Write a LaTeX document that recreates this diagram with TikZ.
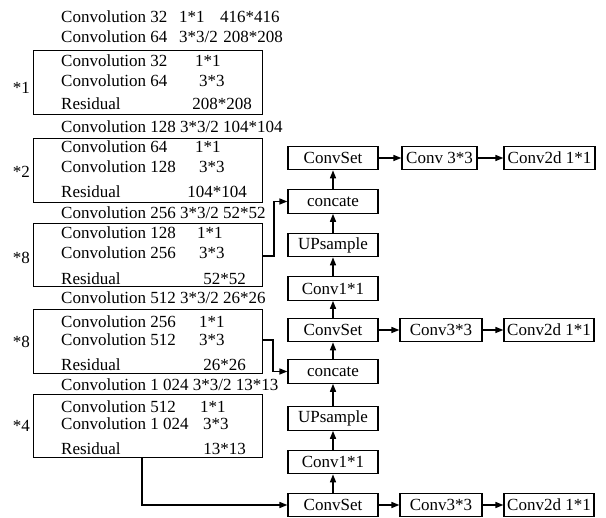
\documentclass[tikz,border=0pt]{standalone}
\usepackage{fontspec}
\setmainfont{Liberation Serif}
\usetikzlibrary{arrows.meta}
\begin{document}
\begin{tikzpicture}[x=1pt,y=-1pt,
  every node/.style={font=\fontsize{17}{20}\selectfont, inner sep=0pt},
  lbox/.style={draw, line width=1.1pt, anchor=north west, minimum width=229pt},
  rbox/.style={draw, line width=1.2pt, minimum height=23.5pt},
  txt/.style={anchor=west},
  txr/.style={anchor=east},
  arr/.style={line width=1.4pt, -{Triangle[length=8pt,width=6pt]}}]
\useasboundingbox (0,0) rectangle (606,518);
% left column
\node[txt] (t0a) at (61,17) {Convolution 32};
\node[txt] (t0b) at (179,17) {1*1};
\node[txt] (t0c) at (220,17) {416*416};
\node[txt] (t1a) at (61,37) {Convolution 64};
\node[txt] (t1b) at (179,37) {3*3/2};
\node[txr] (t1c) at (283,37) {208*208};
\node[lbox, minimum height=64pt] (b1) at (33,50) {};
\node[txt] (b1a) at (61,61) {Convolution 32};
\node[txt] (b1b) at (195,61) {1*1};
\node[txt] (b1c) at (61,81) {Convolution 64};
\node[txt] (b1d) at (199,81) {3*3};
\node[txt] (b1e) at (61,104) {Residual};
\node[txr] (b1f) at (252,104) {208*208};
\node[txr] (m1) at (30,88) {*1};
\node[txt] (t2) at (61,127) {Convolution 128 3*3/2 104*104};
\node[lbox, minimum height=64pt] (b2) at (33,138) {};
\node[txt] (b2a) at (61,147) {Convolution 64};
\node[txt] (b2b) at (195,147) {1*1};
\node[txt] (b2c) at (61,167) {Convolution 128};
\node[txt] (b2d) at (199,167) {3*3};
\node[txt] (b2e) at (61,192) {Residual};
\node[txr] (b2f) at (247,192) {104*104};
\node[txr] (m2) at (30,172) {*2};
\node[txt] (t3) at (61,213) {Convolution 256 3*3/2 52*52};
\node[lbox, minimum height=63pt] (b3) at (33,223) {};
\node[txt] (b3a) at (61,233) {Convolution 128};
\node[txt] (b3b) at (197,233) {1*1};
\node[txt] (b3c) at (61,253) {Convolution 256};
\node[txt] (b3d) at (199,253) {3*3};
\node[txt] (b3e) at (61,279) {Residual};
\node[txr] (b3f) at (246,279) {52*52};
\node[txr] (m3) at (30,258) {*8};
\node[txt] (t4) at (61,298) {Convolution 512 3*3/2 26*26};
\node[lbox, minimum height=64pt] (b4) at (33,309) {};
\node[txt] (b4a) at (61,322) {Convolution 256};
\node[txt] (b4b) at (199,322) {1*1};
\node[txt] (b4c) at (61,340) {Convolution 512};
\node[txt] (b4d) at (199,340) {3*3};
\node[txt] (b4e) at (61,365) {Residual};
\node[txr] (b4f) at (246,365) {26*26};
\node[txr] (m4) at (30,342) {*8};
\node[txt] (t5) at (61,385) {Convolution 1 024 3*3/2 13*13};
\node[lbox, minimum height=63pt] (b5) at (33,394) {};
\node[txt] (b5a) at (61,407) {Convolution 512};
\node[txt] (b5b) at (200,407) {1*1};
\node[txt] (b5c) at (61,424) {Convolution 1 024};
\node[txt] (b5d) at (203,424) {3*3};
\node[txt] (b5e) at (61,449) {Residual};
\node[txr] (b5f) at (246,449) {13*13};
\node[txr] (m5) at (30,426) {*4};
% right column
\node[rbox, minimum width=90pt] (cs1) at (333,158) {ConvSet};
\node[rbox, minimum width=75pt] (c31) at (439.5,158) {Conv 3*3};
\node[rbox, minimum width=91pt] (cd1) at (549.5,158) {Conv2d 1*1};
\node[rbox, minimum width=90pt] (cc1) at (333,201.5) {concate};
\node[rbox, minimum width=90pt] (up1) at (333,245) {UPsample};
\node[rbox, minimum width=90pt] (c11) at (333,288.5) {Conv1*1};
\node[rbox, minimum width=90pt] (cs2) at (333,330) {ConvSet};
\node[rbox, minimum width=82pt] (c32) at (441,330) {Conv3*3};
\node[rbox, minimum width=90pt] (cd2) at (549,330) {Conv2d 1*1};
\node[rbox, minimum width=90pt] (cc2) at (333,371.5) {concate};
\node[rbox, minimum width=90pt] (up2) at (333,418.5) {UPsample};
\node[rbox, minimum width=90pt] (c12) at (333,462) {Conv1*1};
\node[rbox, minimum width=90pt] (cs3) at (333,505) {ConvSet};
\node[rbox, minimum width=82pt] (c33) at (441,505) {Conv3*3};
\node[rbox, minimum width=90pt] (cd3) at (549,505) {Conv2d 1*1};
% connectors
\draw[arr] (cs1) -- (c31);
\draw[arr] (c31) -- (cd1);
\draw[arr] (cs2) -- (c32);
\draw[arr] (c32) -- (cd2);
\draw[arr] (cs3) -- (c33);
\draw[arr] (c33) -- (cd3);
\draw[arr] (cs3) -- (c12);
\draw[arr] (c12) -- (up2);
\draw[arr] (up2) -- (cc2);
\draw[arr] (cc2) -- (cs2);
\draw[arr] (cs2) -- (c11);
\draw[arr] (c11) -- (up1);
\draw[arr] (up1) -- (cc1);
\draw[arr] (cc1) -- (cs1);
\coordinate (j1) at (274,256);
\draw[arr] (b3.east |- j1) -- (j1) |- (cc1.west);
\coordinate (j2) at (273,340);
\draw[arr] (b4.east |- j2) -- (j2) |- (cc2.west);
\coordinate (j3) at (142,457);
\draw[arr] (j3 |- b5.south) |- (cs3.west);
\end{tikzpicture}
\end{document}
